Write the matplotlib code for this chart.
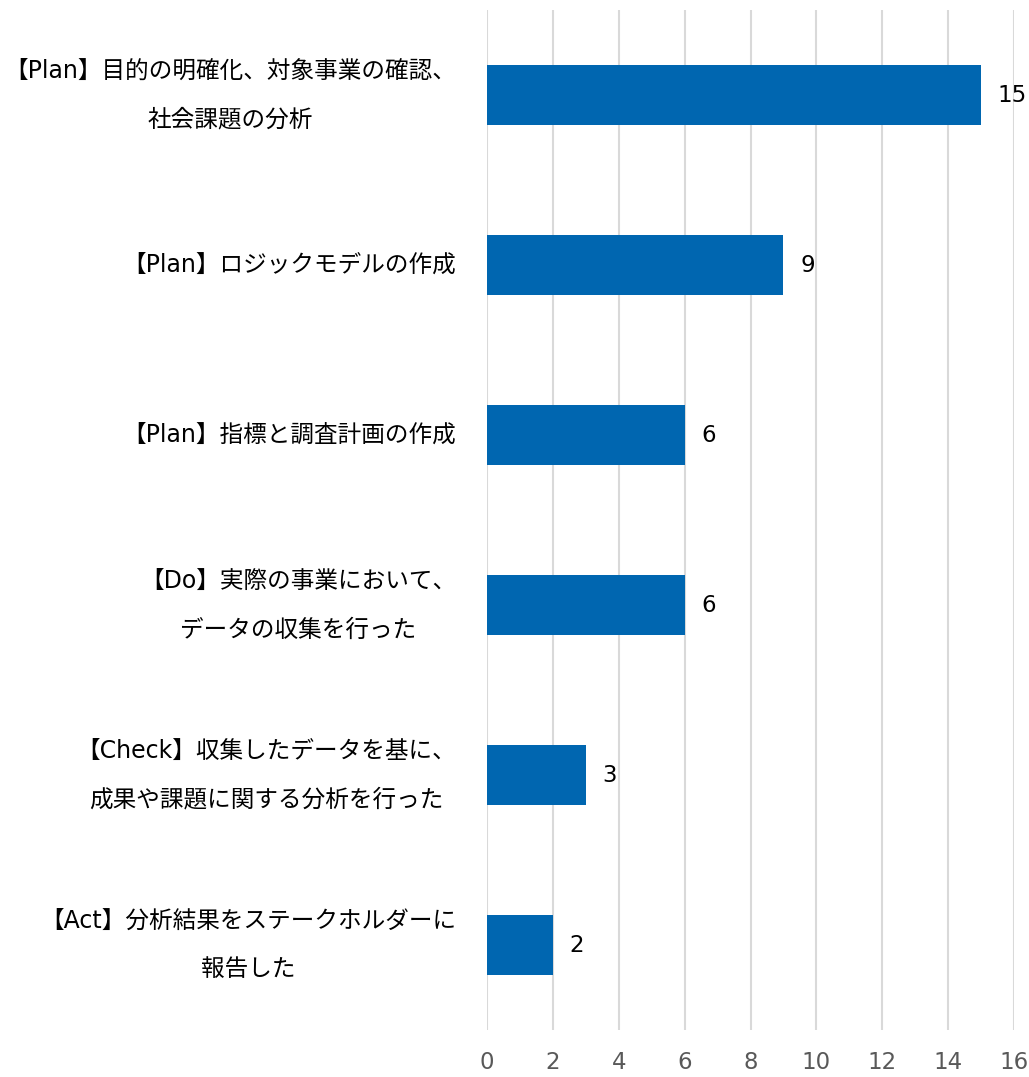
import matplotlib
matplotlib.use("Agg")
import matplotlib.pyplot as plt

# categories from top to bottom
labels = [
    "【Plan】目的の明確化、対象事業の確認、\n社会課題の分析",
    "【Plan】ロジックモデルの作成",
    "【Plan】指標と調査計画の作成",
    "【Do】実際の事業において、\nデータの収集を行った",
    "【Check】収集したデータを基に、\n成果や課題に関する分析を行った",
    "【Act】分析結果をステークホルダーに\n報告した",
]
counts = [15, 9, 6, 6, 3, 2]
x_ticks = [0, 2, 4, 6, 8, 10, 12, 14, 16]

plt.rcParams['font.family'] = ['DejaVu Sans', 'Noto Sans CJK JP']

fig = plt.figure(figsize=(10.29, 10.77), dpi=100)
ax = fig.add_axes([0.4733, 0.0436, 0.9854 - 0.4733, 0.9907 - 0.0436])

ypos = list(range(len(labels)))
ax.barh(ypos, counts, height=0.35, color='#0066B0', zorder=3)

for y, v in zip(ypos, counts):
    ax.annotate(str(v), xy=(v, y), xytext=(12, 0), textcoords='offset points',
                va='center', ha='left', fontsize=16.5, color='black')

ax.set_xlim(0, 16)
ax.set_ylim(len(labels) - 0.5, -0.5)
ax.set_xticks(x_ticks)
ax.set_yticks(ypos)
ax.set_yticklabels(labels, fontsize=17, multialignment='center', linespacing=2.3,
                   va='center')
ax.tick_params(axis='y', length=0, pad=22)
ax.tick_params(axis='x', length=0, pad=15, labelsize=16.5, labelcolor='#595959')
ax.grid(axis='x', color='#D9D9D9', linewidth=1.5, zorder=0)
for s in ax.spines.values():
    s.set_visible(False)

fig.savefig("out.png", dpi=100)
